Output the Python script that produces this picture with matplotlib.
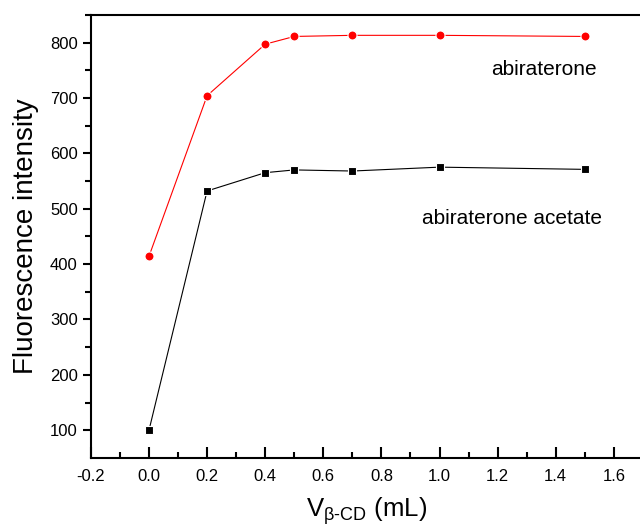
import matplotlib
matplotlib.use('Agg')
import matplotlib.pyplot as plt

plt.rcParams['font.family'] = ['Liberation Sans', 'DejaVu Sans']
plt.rcParams['mathtext.fontset'] = 'custom'
plt.rcParams['mathtext.rm'] = 'Liberation Sans'
plt.rcParams['mathtext.it'] = 'Liberation Sans'

volume = [0.0, 0.2, 0.4, 0.5, 0.7, 1.0, 1.5]
abiraterone = [414, 704, 797, 811, 813, 813, 811]
abiraterone_acetate = [100, 532, 565, 570, 568, 575, 571]

fig = plt.figure(figsize=(6.4, 5.3), dpi=100)
ax = plt.axes([0.142, 0.136, 0.8625, 0.836])

ax.plot(volume, abiraterone, '-o', color='red', lw=0.8, markersize=6.5,
        markeredgecolor='white', markeredgewidth=0.8)
ax.plot(volume, abiraterone_acetate, '-s', color='black', lw=0.8, markersize=6,
        markeredgecolor='white', markeredgewidth=0.8)

ax.text(1.36, 751, 'abiraterone', fontsize=15, ha='center', va='center')
ax.text(1.25, 482, 'abiraterone acetate', fontsize=15, ha='center', va='center')

ax.set_xlim(-0.2, 1.7)
ax.set_ylim(50, 850)
ax.set_xticks([-0.2, 0.0, 0.2, 0.4, 0.6, 0.8, 1.0, 1.2, 1.4, 1.6])
ax.set_xticks([-0.1, 0.1, 0.3, 0.5, 0.7, 0.9, 1.1, 1.3, 1.5], minor=True)
ax.set_yticks(range(100, 801, 100))
ax.set_yticks(range(150, 851, 100), minor=True)
ax.xaxis.set_major_formatter(matplotlib.ticker.FormatStrFormatter('%.1f'))

ax.tick_params(axis='x', which='major', direction='in', length=8, width=1.5, labelsize=12, pad=8)
ax.tick_params(axis='x', which='minor', direction='in', length=4, width=1.5)
ax.tick_params(axis='y', which='major', direction='out', length=6, width=1.5, labelsize=12)
ax.tick_params(axis='y', which='minor', direction='out', length=4, width=1.5)

for s in ['left', 'bottom', 'top']:
    ax.spines[s].set_linewidth(1.5)
ax.spines['right'].set_visible(False)

ax.set_ylabel('Fluorescence intensity', fontsize=20, labelpad=8)
ax.set_xlabel('V$_{\\mathregular{\\beta\u2010CD}}$ (mL)', fontsize=18.5, labelpad=8)

plt.savefig('out.png', dpi=100)
